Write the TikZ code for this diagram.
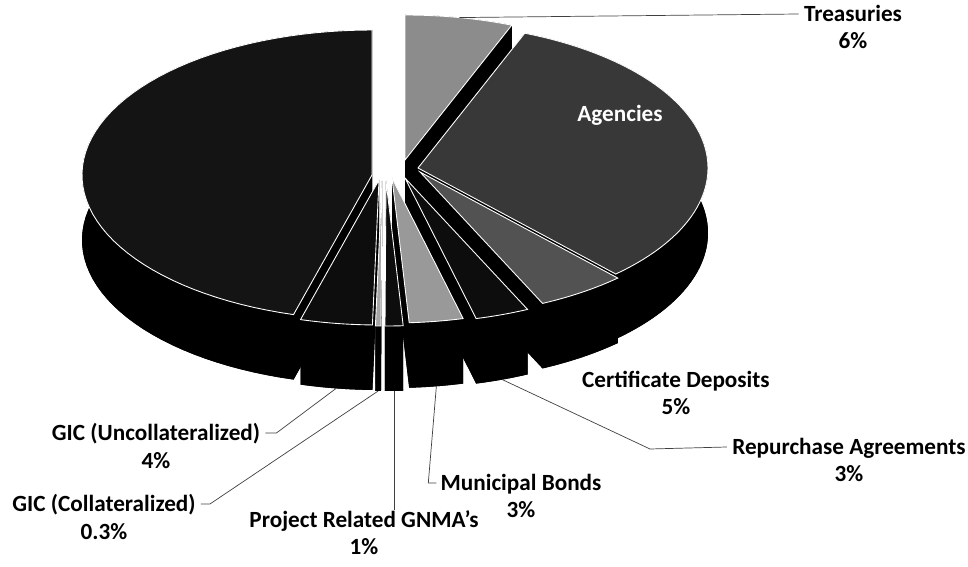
\documentclass[tikz,border=0pt]{standalone}
\usepackage{fontspec}
\setmainfont{Carlito}
\usetikzlibrary{calc}

% pie geometry, in pixels
\def\prx{290}
\def\pry{145}
\def\pd{65}

% #1,#2 apex, #3 start angle, #4 end angle, #5 top colour
\newcommand{\pieslice}[5]{%
  \fill[black] (#1,#2+\pd) -- plot[domain=#3:#4, samples=60] ({#1+\prx*sin(\x)},{#2+\pd-\pry*cos(\x)}) -- cycle;
  \fill[black] plot[domain=#3:#4, samples=60] ({#1+\prx*sin(\x)},{#2-\pry*cos(\x)})
    -- plot[domain=#4:#3, samples=60] ({#1+\prx*sin(\x)},{#2+\pd-\pry*cos(\x)}) -- cycle;
  \fill[black] (#1,#2) -- ({#1+\prx*sin(#3)},{#2-\pry*cos(#3)}) -- ({#1+\prx*sin(#3)},{#2+\pd-\pry*cos(#3)}) -- (#1,#2+\pd) -- cycle;
  \fill[black] (#1,#2) -- ({#1+\prx*sin(#4)},{#2-\pry*cos(#4)}) -- ({#1+\prx*sin(#4)},{#2+\pd-\pry*cos(#4)}) -- (#1,#2+\pd) -- cycle;
  \filldraw[fill=#5, draw=white, line width=0.5pt] (#1,#2) -- plot[domain=#3:#4, samples=60] ({#1+\prx*sin(\x)},{#2-\pry*cos(\x)}) -- cycle;
}

\begin{document}
\begin{tikzpicture}[
  x=0.02cm, y=-0.02cm,
  lbl/.style={font=\fontsize{13.2}{15.5}\selectfont\bfseries, align=center, inner sep=0pt},
  leader/.style={black!75, line width=0.4pt},
]
\useasboundingbox (0,0) rectangle (968,567);

% Slices, back to front
\pieslice{405}{160}{0}{21.6}{black!45}
\pieslice{372}{175}{195.7}{360}{black!92}
\pieslice{418}{168}{21.6}{137}{black!78}
\pieslice{420}{172}{137}{155}{black!68}
\pieslice{405}{178}{155}{165.8}{black!95}
\pieslice{379}{180}{181.3}{195.7}{black!95}
\pieslice{392}{178}{165.8}{176.6}{black!40}
\pieslice{382}{181}{180.2}{181.3}{black!35}
\pieslice{386}{181}{176.6}{180.2}{black!95}

% Leader starts
\coordinate (treastop) at ({405+\prx*sin(10.8)},{160-\pry*cos(10.8)});
\coordinate (repotip) at ({405+\prx*sin(160.4)},{178+\pd-\pry*cos(160.4)});
\coordinate (repobend) at (650,449);
\coordinate (munitip) at ({392+\prx*sin(171.2)},{178+\pd-\pry*cos(171.2)});
\coordinate (gnmatip) at ({386+\prx*sin(178.4)},{181+\pd-\pry*cos(178.4)});
\coordinate (gicctip) at ({382+\prx*sin(180.75)},{181+\pd-\pry*cos(180.75)});
\coordinate (gicutip) at ({379+\prx*sin(188.5)},{180+\pd-\pry*cos(188.5)});

% Labels
\node[lbl, text=white] (agen) at (620,115) {Agencies};
\node[lbl] (treas) at (853,27) {Treasuries\\6\%};
\node[lbl] (cdep) at (676,393) {Certificate Deposits\\5\%};
\node[lbl] (repo) at (849,460) {Repurchase Agreements\\3\%};
\node[lbl] (muni) at (521,496) {Municipal Bonds\\3\%};
\node[lbl] (gnma) at (364,533) {Project Related GNMA's\\1\%};
\node[lbl] (gicc) at (104,517) {GIC (Collateralized)\\0.3\%};
\node[lbl] (gicu) at (156,446) {GIC (Uncollateralized)\\4\%};

% Leaders
\draw[leader] (treastop) -- ($(treas.west)+(-5,-13)$);
\draw[leader] (repotip) -- (repobend) -- ($(repo.west)+(-5,-13)$);
\draw[leader] (munitip) -- ($(muni.west)+(-12,-13)$) -- ($(muni.west)+(-4,-13)$);
\draw[leader] (gnmatip) -- (gnmatip |- gnma.north);
\draw[leader] (gicctip) -- ($(gicc.east)+(14,-13)$) -- ($(gicc.east)+(5,-13)$);
\draw[leader] (gicutip) -- ($(gicu.east)+(16,-13)$) -- ($(gicu.east)+(5,-13)$);
\end{tikzpicture}
\end{document}
